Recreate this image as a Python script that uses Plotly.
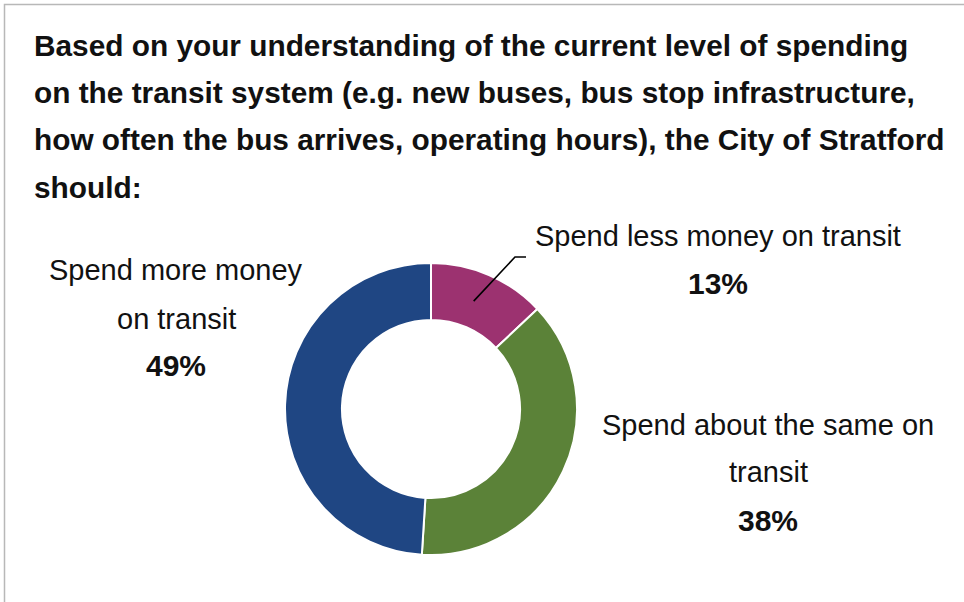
import math
import plotly.graph_objects as go

W, H = 964, 602

# Survey responses
categories = ["Spend less money on transit", "Spend about the same on transit", "Spend more money on transit"]
shares = [13, 38, 49]
colors = ["#9C3270", "#5B8238", "#1F4683"]

title_lines = [
    "Based on your understanding of the current level of spending",
    "on the transit system (e.g. new buses, bus stop infrastructure,",
    "how often the bus arrives, operating hours), the City of Stratford",
    "should:",
]

FONT = "Liberation Sans"
INK = "#111111"

def px(x):
    return x / W

def py(y):
    return 1 - y / H

# Donut geometry in pixels
cx, cy, r_out = 431, 409, 146
hole = 0.61

fig = go.Figure(go.Pie(
    labels=categories,
    values=shares,
    sort=False,
    direction="clockwise",
    rotation=0,
    hole=hole,
    marker=dict(colors=colors, line=dict(color="white", width=2)),
    textinfo="none",
    hoverinfo="label+percent",
    showlegend=False,
    domain=dict(x=[px(cx - r_out), px(cx + r_out)], y=[py(cy + r_out), py(cy - r_out)]),
))

ann = []

def add_text(text, x, y, size, xanchor="center"):
    ann.append(dict(text=text, x=px(x), y=py(y), xref="paper", yref="paper",
                    xanchor=xanchor, yanchor="middle", showarrow=False,
                    font=dict(family=FONT, size=size, color=INK)))

# Title, one annotation per line for the wide line spacing
for i, line in enumerate(title_lines):
    add_text(f"<b>{line}</b>", 32, 46 + 47 * i, 29.8, xanchor="left")

def label(lines, pct, x, ys):
    for t, y in zip(lines, ys[:-1]):
        add_text(t, x, y, 29)
    add_text(f"<b>{pct}%</b>", x, ys[-1], 30)

label(["Spend more money", "on transit"], shares[2], 176, [270, 319, 365])
label(["Spend less money on transit"], shares[0], 718, [236, 283])
label(["Spend about the same on", "transit"], shares[1], 768, [425, 472, 520])

# Leader line from the middle of the smallest slice
theta = 2 * math.pi * (shares[0] / 2) / sum(shares)
r_mid = r_out * (1 + hole) / 2
sx, sy = cx + r_mid * math.sin(theta) - 4, cy - r_mid * math.cos(theta)
elbow_x, elbow_y = 515, 257
end_x = 526

shapes = [
    # frame (left and top edges visible)
    dict(type="rect", xref="paper", yref="paper", x0=px(4.5), x1=px(W + 10), y0=py(H + 10), y1=py(4.5),
         line=dict(color="#B8B8B8", width=1.5)),
    dict(type="path", xref="paper", yref="paper",
         path=f"M {px(sx)} {py(sy)} L {px(elbow_x)} {py(elbow_y)} L {px(end_x)} {py(elbow_y)}",
         line=dict(color="black", width=1.6)),
]

fig.update_layout(
    width=W, height=H,
    margin=dict(l=0, r=0, t=0, b=0),
    paper_bgcolor="white", plot_bgcolor="white",
    annotations=ann, shapes=shapes,
)

fig.write_html("out.html")
